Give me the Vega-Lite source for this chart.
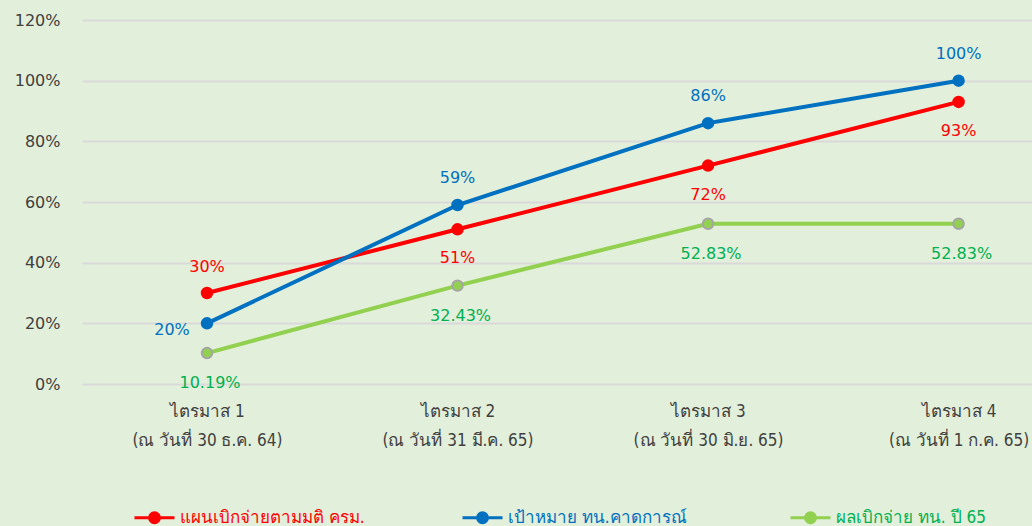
{
  "$schema": "https://vega.github.io/schema/vega-lite/v6.json",
  "width": 950,
  "height": 364,
  "autosize": {"type": "none"},
  "padding": {"left": 82, "top": 20, "right": 0, "bottom": 142},
  "background": "#E2EFDA",
  "config": {
    "view": {"stroke": null},
    "font": "DejaVu Sans"
  },
  "data": {
    "values": [
      {"q": "ไตรมาส 1\n(ณ วันที่ 30 ธ.ค. 64)", "i": 1, "series": "แผนเบิกจ่ายตามมติ ครม.", "value": 0.30},
      {"q": "ไตรมาส 2\n(ณ วันที่ 31 มี.ค. 65)", "i": 2, "series": "แผนเบิกจ่ายตามมติ ครม.", "value": 0.51},
      {"q": "ไตรมาส 3\n(ณ วันที่ 30 มิ.ย. 65)", "i": 3, "series": "แผนเบิกจ่ายตามมติ ครม.", "value": 0.72},
      {"q": "ไตรมาส 4\n(ณ วันที่ 1 ก.ค. 65)", "i": 4, "series": "แผนเบิกจ่ายตามมติ ครม.", "value": 0.93},
      {"q": "ไตรมาส 1\n(ณ วันที่ 30 ธ.ค. 64)", "i": 1, "series": "เป้าหมาย ทน.คาดการณ์", "value": 0.20},
      {"q": "ไตรมาส 2\n(ณ วันที่ 31 มี.ค. 65)", "i": 2, "series": "เป้าหมาย ทน.คาดการณ์", "value": 0.59},
      {"q": "ไตรมาส 3\n(ณ วันที่ 30 มิ.ย. 65)", "i": 3, "series": "เป้าหมาย ทน.คาดการณ์", "value": 0.86},
      {"q": "ไตรมาส 4\n(ณ วันที่ 1 ก.ค. 65)", "i": 4, "series": "เป้าหมาย ทน.คาดการณ์", "value": 1.00},
      {"q": "ไตรมาส 1\n(ณ วันที่ 30 ธ.ค. 64)", "i": 1, "series": "ผลเบิกจ่าย ทน. ปี 65", "value": 0.1019},
      {"q": "ไตรมาส 2\n(ณ วันที่ 31 มี.ค. 65)", "i": 2, "series": "ผลเบิกจ่าย ทน. ปี 65", "value": 0.3243},
      {"q": "ไตรมาส 3\n(ณ วันที่ 30 มิ.ย. 65)", "i": 3, "series": "ผลเบิกจ่าย ทน. ปี 65", "value": 0.5283},
      {"q": "ไตรมาส 4\n(ณ วันที่ 1 ก.ค. 65)", "i": 4, "series": "ผลเบิกจ่าย ทน. ปี 65", "value": 0.5283}
    ]
  },
  "encoding": {
    "x": {
      "field": "q",
      "type": "nominal",
      "sort": null,
      "scale": {"type": "point", "padding": 0.396, "align": 0.63},
      "axis": {
        "title": null,
        "labelAngle": 0,
        "domain": false,
        "ticks": false,
        "labelExpr": "split(datum.value, '\\n')",
        "labelFontSize": 17,
        "labelColor": "#404040",
        "labelPadding": 19,
        "labelLineHeight": 29,
        "labelFont": "DejaVu Sans Condensed"
      }
    },
    "y": {
      "field": "value",
      "type": "quantitative",
      "scale": {"domain": [0, 1.2], "nice": false},
      "axis": {
        "title": null,
        "values": [0, 0.2, 0.4, 0.6, 0.8, 1.0, 1.2],
        "format": ".0%",
        "domain": false,
        "ticks": false,
        "gridColor": "#D9D9D9",
        "gridWidth": 2,
        "labelFontSize": 16,
        "labelColor": "#404040",
        "labelPadding": 22
      }
    }
  },
  "layer": [
    {
      "mark": {"type": "line", "strokeWidth": 4},
      "encoding": {
        "color": {
          "field": "series",
          "type": "nominal",
          "scale": {
            "domain": ["แผนเบิกจ่ายตามมติ ครม.", "เป้าหมาย ทน.คาดการณ์", "ผลเบิกจ่าย ทน. ปี 65"],
            "range": ["#FF0000", "#0070C0", "#92D050"]
          },
          "legend": {
            "title": null,
            "orient": "none",
            "direction": "horizontal",
            "legendX": 51,
            "legendY": 476,
            "columns": 3,
            "gridAlign": "all",
            "columnPadding": 91,
            "labelLimit": 500,
            "symbolType": "M-1,0H1M0.25,0A0.25,0.25 0 1,1 -0.25,0A0.25,0.25 0 1,1 0.25,0",
            "symbolSize": 1600,
            "symbolStrokeWidth": 3,
            "labelFontSize": 17,
            "labelFont": "DejaVu Sans Condensed",
            "labelOffset": 4,
            "encode": {
              "symbols": {"update": {"fill": {"signal": "scale('color', datum.value)"}, "stroke": {"signal": "scale('color', datum.value)"}, "strokeWidth": {"value": 3}, "opacity": {"value": 1}}},
              "labels": {"update": {"fill": {"signal": "datum.value === 'ผลเบิกจ่าย ทน. ปี 65' ? '#00B050' : scale('color', datum.value)"}}}
            }
          }
        }
      }
    },
    {
      "mark": {"type": "point", "filled": true, "size": 110, "opacity": 1, "strokeWidth": 2},
      "encoding": {
        "color": {"field": "series", "type": "nominal"},
        "stroke": {
          "field": "series",
          "type": "nominal",
          "scale": {
            "domain": ["แผนเบิกจ่ายตามมติ ครม.", "เป้าหมาย ทน.คาดการณ์", "ผลเบิกจ่าย ทน. ปี 65"],
            "range": ["#FF0000", "#0070C0", "#A5A5A5"]
          },
          "legend": null
        }
      }
    },
    {
      "transform": [{"filter": "datum.series === 'แผนเบิกจ่ายตามมติ ครม.' && datum.i > 1"}],
      "mark": {"type": "text", "dy": 29, "fontSize": 16, "color": "#FF0000"},
      "encoding": {"text": {"field": "value", "format": ".0%"}}
    },
    {
      "transform": [{"filter": "datum.series === 'แผนเบิกจ่ายตามมติ ครม.' && datum.i === 1"}],
      "mark": {"type": "text", "dy": -26, "fontSize": 16, "color": "#FF0000"},
      "encoding": {"text": {"field": "value", "format": ".0%"}}
    },
    {
      "transform": [{"filter": "datum.series === 'เป้าหมาย ทน.คาดการณ์' && datum.i > 1"}],
      "mark": {"type": "text", "dy": -27, "fontSize": 16, "color": "#0070C0"},
      "encoding": {"text": {"field": "value", "format": ".0%"}}
    },
    {
      "transform": [{"filter": "datum.series === 'เป้าหมาย ทน.คาดการณ์' && datum.i === 1"}],
      "mark": {"type": "text", "dx": -35, "dy": 7, "fontSize": 16, "color": "#0070C0"},
      "encoding": {"text": {"field": "value", "format": ".0%"}}
    },
    {
      "transform": [{"filter": "datum.series === 'ผลเบิกจ่าย ทน. ปี 65'"}],
      "mark": {"type": "text", "dy": 30, "dx": 3, "fontSize": 16, "color": "#00B050"},
      "encoding": {"text": {"field": "value", "format": ".2%"}}
    }
  ]
}
